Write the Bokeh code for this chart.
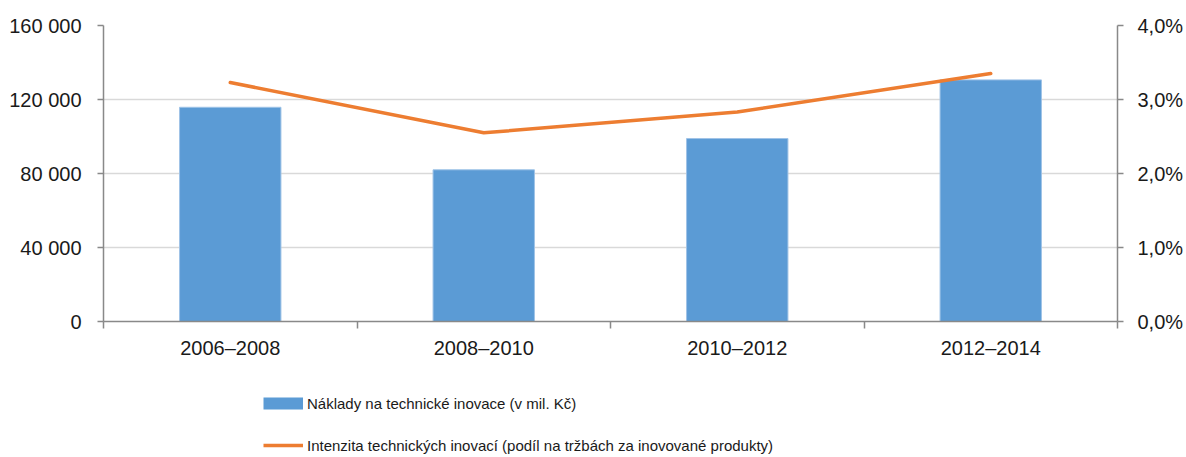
from bokeh.plotting import figure
from bokeh.models import (Range1d, LinearAxis, FixedTicker, Legend, LegendItem, ColumnDataSource, Grid)
from bokeh.layouts import column
from bokeh.embed import file_html
from bokeh.resources import INLINE

categories = ["2006–2008", "2008–2010", "2010–2012", "2012–2014"]
costs = [115800, 82000, 98900, 130600]          # Náklady na technické inovace (v mil. Kč)
intensity = [3.23, 2.55, 2.83, 3.35]            # Intenzita technických inovací (%)
left_ticks = [0, 40000, 80000, 120000, 160000]
left_labels = ["0", "40 000", "80 000", "120 000", "160 000"]
right_ticks = [0, 1, 2, 3, 4]
right_labels = ["0,0%", "1,0%", "2,0%", "3,0%", "4,0%"]
bar_label = "Náklady na technické inovace (v mil. Kč)"
line_label = "Intenzita technických inovací (podíl na tržbách za inovované produkty)"

FONT = "Liberation Sans"
BLUE = "#5B9BD5"
ORANGE = "#ED7D31"
AXIS = "#898989"
TXT = "#1a1a1a"

xs = [i + 0.5 for i in range(len(categories))]
src = ColumnDataSource(dict(x=xs, cost=costs, pct=intensity))

p = figure(width=1186, height=368, output_backend="svg", toolbar_location=None,
           x_range=Range1d(0, len(categories)), y_range=Range1d(0, 160000),
           x_axis_type=None, y_axis_type=None,
           min_border_left=103, min_border_right=66, min_border_top=25, min_border_bottom=47)
p.outline_line_color = None
p.background_fill_color = "white"
p.border_fill_color = "white"
p.extra_y_ranges = {"pct": Range1d(0, 4)}

# left axis
ly = LinearAxis(ticker=FixedTicker(ticks=left_ticks, minor_ticks=[]),
                major_label_overrides={t: l for t, l in zip(left_ticks, left_labels)})
ly.axis_line_color = AXIS
ly.axis_line_width = 1.5
ly.major_tick_line_color = AXIS
ly.major_tick_line_width = 1.5
ly.major_tick_out = 6
ly.major_tick_in = 0
ly.minor_tick_line_color = None
ly.major_label_standoff = 16
ly.major_label_text_font = FONT
ly.major_label_text_font_size = "20px"
ly.major_label_text_color = TXT
p.add_layout(ly, "left")

# right axis
ry = LinearAxis(y_range_name="pct", ticker=FixedTicker(ticks=right_ticks, minor_ticks=[]),
                major_label_overrides={t: l for t, l in zip(right_ticks, right_labels)})
ry.axis_line_color = AXIS
ry.axis_line_width = 1.5
ry.major_tick_line_color = AXIS
ry.major_tick_line_width = 1.5
ry.major_tick_out = 6
ry.major_tick_in = 0
ry.minor_tick_line_color = None
ry.major_label_standoff = 14
ry.major_label_text_font = FONT
ry.major_label_text_font_size = "20px"
ry.major_label_text_color = TXT
p.add_layout(ry, "right")

# bottom axis: labels at centers, ticks at category boundaries (minor ticks)
bx = LinearAxis(ticker=FixedTicker(ticks=xs, minor_ticks=list(range(len(categories) + 1))),
                major_label_overrides={x: c for x, c in zip(xs, categories)})
bx.axis_line_color = AXIS
bx.axis_line_width = 1.5
bx.major_tick_line_color = None
bx.major_tick_out = 0
bx.major_tick_in = 0
bx.minor_tick_line_color = AXIS
bx.minor_tick_line_width = 1.5
bx.minor_tick_out = 7
bx.minor_tick_in = 0
bx.major_label_standoff = 8
bx.major_label_text_font = FONT
bx.major_label_text_font_size = "20px"
bx.major_label_text_color = TXT
p.add_layout(bx, "below")

# grid
p.ygrid.grid_line_color = None
g = Grid(dimension=1, ticker=FixedTicker(ticks=left_ticks), grid_line_color="#d9d9d9", grid_line_width=1.5)
p.add_layout(g)

bars = p.vbar(x="x", top="cost", width=0.4, source=src, fill_color=BLUE, line_color="#9fc3e7", line_width=1)
ln = p.line(x="x", y="pct", source=src, y_range_name="pct", line_color=ORANGE, line_width=3.5,
            line_cap="round", line_join="round")

# legend figure below the chart (frames of the column are aligned)
q = figure(width=1186, height=89, output_backend="svg", toolbar_location=None,
           x_range=Range1d(0, 1), y_range=Range1d(0, 1),
           x_axis_type=None, y_axis_type=None,
           min_border_left=0, min_border_right=0, min_border_top=0, min_border_bottom=0)
q.outline_line_color = None
q.xgrid.visible = False
q.ygrid.visible = False
# swatch renderers: their points lie outside the visible range, only the legend shows them
sw = q.line(x=[5, 6], y=[5, 5], line_color=BLUE, line_width=12, line_cap="butt")
sw2 = q.line(x=[5, 6], y=[5, 5], line_color=ORANGE, line_width=3.5, line_cap="butt")

legend = Legend(items=[LegendItem(label=bar_label, renderers=[sw]),
                       LegendItem(label=line_label, renderers=[sw2])],
                location=(160, 2), orientation="vertical",
                glyph_width=40, glyph_height=20, label_height=20, spacing=22,
                label_standoff=4, padding=0, margin=0,
                border_line_color=None, background_fill_alpha=0,
                label_text_font=FONT, label_text_font_size="15px", label_text_color=TXT)
q.add_layout(legend, "center")

open("out.html", "w").write(file_html(column(p, q, spacing=0), INLINE))
